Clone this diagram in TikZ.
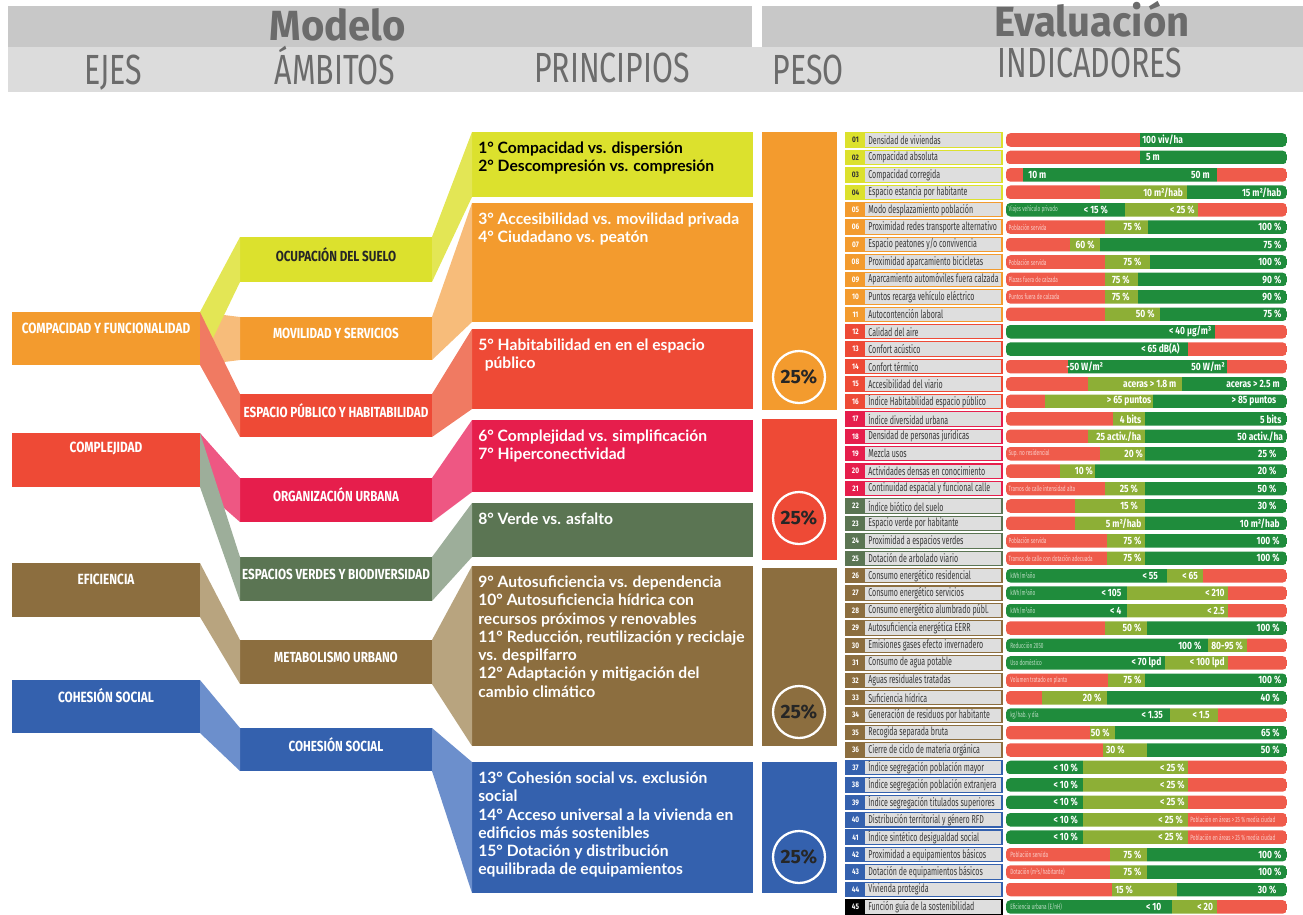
\documentclass[tikz,border=0pt]{standalone}
\usepackage{fontspec}
\setmainfont{Fira Sans}
\newfontfamily\topfont{Fira Sans}[FakeStretch=0.95]
\newfontfamily\hdfont{Fira Sans}[FakeStretch=0.72]
\newfontfamily\condfont{Fira Sans}[FakeStretch=0.8]
\newfontfamily\narrowfont{Fira Sans}[FakeStretch=0.62]
\newfontfamily\prinfont{Lato}

\definecolor{hdA}{HTML}{C8C8C8}
\definecolor{hdB}{HTML}{DCDCDC}
\definecolor{hdText}{HTML}{6B6B6B}
\definecolor{cAma}{HTML}{DCE12D}
\definecolor{cOra}{HTML}{F39B2E}
\definecolor{cRoj}{HTML}{EE4A36}
\definecolor{cRos}{HTML}{E61E4C}
\definecolor{cVer}{HTML}{5B7553}
\definecolor{cMar}{HTML}{8C6E3F}
\definecolor{cAzu}{HTML}{3461AE}
\definecolor{rAma}{HTML}{E3E655}
\definecolor{rOra}{HTML}{F7BC7A}
\definecolor{rRoj}{HTML}{F07A62}
\definecolor{rRos}{HTML}{EE5783}
\definecolor{rVer}{HTML}{9DAE9A}
\definecolor{rMar}{HTML}{B8A47F}
\definecolor{rAzu}{HTML}{6C8FCC}
\definecolor{lblGray}{HTML}{DEDEDE}
\definecolor{barR}{HTML}{EF5B4B}
\definecolor{barL}{HTML}{8DAF36}
\definecolor{barG}{HTML}{1F8C3C}

\newcommand\zonebox[6][]{\node[box,anchor=north west,minimum width={(#5-#3)*0.02cm},minimum height={(#6-#4)*0.02cm},#1] (#2) at (#3,#4) {};}
\newcommand\ribbon[3]{\fill[#1] (#2.north east) -- (#3.north west) -- (#3.south west) -- (#2.south east) -- cycle;}
\newcommand\indrow[7]{%
  \pgfmathsetmacro\yy{140+(#1-1)*17.43}
  \draw[#2, fill=lblGray, line width=0.6pt] (846,\yy-7.2) rectangle (1002,\yy+7.2);
  \fill[#2] (846,\yy-7.2) rectangle (865,\yy+7.2);
  \node[numtxt, text=#3] (num#1) at (855.5,\yy) {\ifnum#1<10 0\fi#1};
  \node[labtxt] (lab#1) at (868,\yy) {#4};
  \begin{scope}
    \clip[rounded corners=2.5pt] (1006,\yy-6.8) rectangle (1287,\yy+6.8);
    \foreach \c/\xe [remember=\xe as \xs (initially 497)] in {#5}
      \fill[\c] ({840+\xs/3},\yy-7) rectangle ({840+\xe/3},\yy+7);
  \end{scope}
  \foreach \xv/\tv [count=\k] in {#6}
    \node[valtxt] (val#1-\k) at ({840+\xv/3},\yy) {\tv};
  \if\relax\detokenize{#7}\relax\else
    \foreach \xn/\tn [count=\k] in {#7}
      \node[notetxt] (note#1-\k) at ({840+\xn/3},\yy) {\tn};
  \fi
}

\begin{document}
\begin{tikzpicture}[x=0.02cm, y=-0.02cm,
  box/.style = {rectangle, inner sep=0pt, outer sep=0pt},
  hdtop/.style = {anchor=base, font=\topfont\bfseries\fontsize{24}{24}\selectfont, text=hdText},
  hdsub/.style = {anchor=base, font=\hdfont\fontsize{24}{24}\selectfont, text=hdText},
  ejelbl/.style = {anchor=center, yshift=-0.32cm, inner sep=0pt, text=white,
    font=\condfont\bfseries\fontsize{8.4}{9}\selectfont},
  amblbl/.style = {anchor=center, yshift=0.1cm, inner sep=0pt, text=white,
    font=\condfont\bfseries\fontsize{8.3}{9}\selectfont},
  prinlbl/.style = {anchor=north west, xshift=0.12cm, yshift=-0.19cm, inner sep=0pt,
    align=left, text=white, font=\prinfont\bfseries\fontsize{8.9}{10.4}\selectfont},
  pct/.style = {circle, draw=white, line width=1.3pt, minimum size=1.04cm, inner sep=0pt,
    text=black!85, font=\bfseries\fontsize{11}{11}\selectfont},
  numtxt/.style = {inner sep=0pt, font=\condfont\bfseries\fontsize{4.6}{5}\selectfont},
  labtxt/.style = {anchor=west, inner sep=0pt, text=black!78,
    font=\narrowfont\fontsize{6.5}{7}\selectfont},
  valtxt/.style = {anchor=east, inner sep=0pt, text=white,
    font=\condfont\bfseries\fontsize{6}{7}\selectfont},
  notetxt/.style = {anchor=west, inner sep=0pt, text=white, text opacity=0.7,
    font=\narrowfont\fontsize{4.3}{5}\selectfont}]
\useasboundingbox (0,0) rectangle (1303,914);

\fill[hdA] (8,6) rectangle (752,47);
\fill[hdA] (762,6) rectangle (1303,47);
\fill[hdB] (8,47) rectangle (1303,92);
\node[hdtop] (tModelo) at (338,40) {Modelo};
\node[hdtop] (tEval) at (1092,36) {Evaluación};
\node[hdsub] (tEjes) at (113,84) {EJES};
\node[hdsub] (tAmbi) at (335,84) {ÁMBITOS};
\node[hdsub] (tPrin) at (612,82) {PRINCIPIOS};
\node[hdsub] (tPeso) at (808,84) {PESO};
\node[hdsub] (tIndi) at (1090,77) {INDICADORES};

\zonebox[fill=cOra, label={[ejelbl]north:COMPACIDAD Y FUNCIONALIDAD}]{eComp}{12}{312}{200}{365}
\zonebox[fill=cRoj, label={[ejelbl]north:COMPLEJIDAD}]{eCplj}{12}{433}{200}{487}
\zonebox[fill=cMar, label={[ejelbl]north:EFICIENCIA}]{eEfic}{12}{563}{200}{617}
\zonebox[fill=cAzu, label={[ejelbl]north:COHESIÓN SOCIAL}]{eCohe}{12}{680}{200}{733}

\zonebox[fill=cAma, label={[amblbl, text=black!85]center:OCUPACIÓN DEL SUELO}]{aOcup}{240}{237}{432}{282}
\zonebox[fill=cOra, label={[amblbl]center:MOVILIDAD Y SERVICIOS}]{aMovi}{240}{317}{432}{360}
\zonebox[fill=cRoj, label={[amblbl]center:ESPACIO PÚBLICO Y HABITABILIDAD}]{aEspa}{240}{394}{432}{437}
\zonebox[fill=cRos, label={[amblbl]center:ORGANIZACIÓN URBANA}]{aOrga}{240}{478}{432}{522}
\zonebox[fill=cVer, label={[amblbl]center:ESPACIOS VERDES Y BIODIVERSIDAD}]{aVerd}{240}{557}{432}{601}
\zonebox[fill=cMar, label={[amblbl]center:METABOLISMO URBANO}]{aMeta}{240}{640}{432}{684}
\zonebox[fill=cAzu, label={[amblbl]center:COHESIÓN SOCIAL}]{aCohe}{240}{728}{432}{771}

\zonebox[fill=cAma, label={[prinlbl, text=black]north west:1° Compacidad vs. dispersión\\2° Descompresión vs. compresión}]{pPrin1}{472}{132}{753}{197}
\zonebox[fill=cOra, label={[prinlbl]north west:3° Accesibilidad vs. movilidad privada\\4° Ciudadano vs. peatón}]{pPrin2}{472}{203}{753}{322}
\zonebox[fill=cRoj, label={[prinlbl]north west:5° Habitabilidad en en el espacio\\\ \,público}]{pPrin3}{472}{329}{753}{409}
\zonebox[fill=cRos, label={[prinlbl]north west:6° Complejidad vs. simplificación\\7° Hiperconectividad}]{pPrin4}{472}{420}{753}{492}
\zonebox[fill=cVer, label={[prinlbl]north west:8° Verde vs. asfalto}]{pPrin5}{472}{503}{753}{557}
\zonebox[fill=cMar, label={[prinlbl]north west:9° Autosuficiencia vs. dependencia\\10° Autosuficiencia hídrica con\\recursos próximos y renovables\\11° Reducción, reutilización y reciclaje\\vs. despilfarro\\12° Adaptación y mitigación del\\cambio climático}]{pPrin6}{472}{566}{753}{746}
\zonebox[fill=cAzu, label={[prinlbl]north west:13° Cohesión social vs. exclusión\\social\\14° Acceso universal a la vivienda en\\edificios más sostenibles\\15° Dotación y distribución\\equilibrada de equipamientos}]{pPrin7}{472}{762}{753}{893}

\zonebox[fill=cOra]{wComp}{762}{132}{837}{410}
\zonebox[fill=cRoj]{wCplj}{762}{419}{837}{560}
\zonebox[fill=cMar]{wEfic}{762}{568}{837}{746}
\zonebox[fill=cAzu]{wCohe}{762}{762}{837}{893}
\node[pct, fill=cOra] (pct1) at (799,377) {25\%};
\node[pct, fill=cRoj] (pct2) at (799,518) {25\%};
\node[pct, fill=cMar] (pct3) at (799,712) {25\%};
\node[pct, fill=cAzu] (pct4) at (799,857) {25\%};

\ribbon{rOra}{eComp}{aMovi}
\ribbon{rAma}{eComp}{aOcup}
\ribbon{rRoj}{eComp}{aEspa}
\ribbon{rRos}{eCplj}{aOrga}
\ribbon{rVer}{eCplj}{aVerd}
\ribbon{rMar}{eEfic}{aMeta}
\ribbon{rAzu}{eCohe}{aCohe}
\ribbon{rAma}{aOcup}{pPrin1}
\ribbon{rOra}{aMovi}{pPrin2}
\ribbon{rRoj}{aEspa}{pPrin3}
\ribbon{rRos}{aOrga}{pPrin4}
\ribbon{rVer}{aVerd}{pPrin5}
\ribbon{rMar}{aMeta}{pPrin6}
\ribbon{rAzu}{aCohe}{pPrin7}

\indrow{1}{cAma}{black!80}{Densidad de viviendas}{barR/900,barG/1340}{1030/{100 viv/ha}}{}
\indrow{2}{cAma}{black!80}{Compacidad absoluta}{barR/900,barG/1340}{960/{5 m}}{}
\indrow{3}{cAma}{black!80}{Compacidad corregida}{barR/550,barG/1130,barR/1340}{620/{10 m},1110/{50 m}}{}
\indrow{4}{cAma}{black!80}{Espacio estancia por habitante}{barR/780,barL/1040,barG/1340}{1030/{10 m²/hab},1325/{15 m²/hab}}{}
\indrow{5}{cOra}{white}{Modo desplazamiento población}{barG/855,barL/1075,barR/1340}{805/{< 15 \%},1065/{< 25 \%}}{505/{Viajes vehículo privado}}
\indrow{6}{cOra}{white}{Proximidad redes transporte alternativo}{barR/795,barL/925,barG/1340}{905/{75 \%},1325/{100 \%}}{505/{Población servida}}
\indrow{7}{cOra}{white}{Espacio peatones y/o convivencia}{barR/690,barL/780,barG/1340}{765/{60 \%},1325/{75 \%}}{}
\indrow{8}{cOra}{white}{Proximidad aparcamiento bicicletas}{barR/795,barL/930,barG/1340}{905/{75 \%},1325/{100 \%}}{505/{Población servida}}
\indrow{9}{cOra}{white}{Aparcamiento automóviles fuera calzada}{barR/795,barL/895,barG/1340}{870/{75 \%},1325/{90 \%}}{505/{Plazas fuera de calzada}}
\indrow{10}{cOra}{white}{Puntos recarga vehículo eléctrico}{barR/795,barL/895,barG/1340}{870/{75 \%},1325/{90 \%}}{505/{Puntos fuera de calzada}}
\indrow{11}{cOra}{white}{Autocontención laboral}{barR/795,barL/960,barG/1340}{945/{50 \%},1325/{75 \%}}{}
\indrow{12}{cRoj}{white}{Calidad del aire}{barG/1125,barR/1340}{1115/{< 40 µg/m³}}{}
\indrow{13}{cRoj}{white}{Confort acústico}{barG/1045,barR/1340}{1020/{< 65 dB(A)}}{}
\indrow{14}{cRoj}{white}{Confort térmico}{barR/685,barG/1160,barR/1340}{790/{-50 W/m²},1155/{50 W/m²}}{}
\indrow{15}{cRoj}{white}{Accesibilidad del viario}{barR/745,barL/1025,barG/1340}{1010/{aceras > 1.8 m},1320/{aceras > 2.5 m}}{}
\indrow{16}{cRoj}{white}{Índice Habitabilidad espacio público}{barR/615,barL/940,barG/1340}{935/{> 65 puntos},1310/{> 85 puntos}}{}
\indrow{17}{cRos}{white}{Índice diversidad urbana}{barR/820,barL/915,barG/1340}{905/{4 bits},1325/{5 bits}}{}
\indrow{18}{cRos}{white}{Densidad de personas jurídicas}{barR/745,barL/915,barG/1340}{905/{25 activ./ha},1330/{50 activ./ha}}{}
\indrow{19}{cRos}{white}{Mezcla usos}{barR/780,barL/915,barG/1340}{910/{20 \%},1310/{25 \%}}{505/{Sup. no residencial}}
\indrow{20}{cRos}{white}{Actividades densas en conocimiento}{barR/660,barL/765,barG/1340}{760/{10 \%},1310/{20 \%}}{}
\indrow{21}{cRos}{white}{Continuidad espacial y funcional calle}{barR/795,barL/915,barG/1340}{895/{25 \%},1310/{50 \%}}{505/{Tramos de calle intensidad alta}}
\indrow{22}{cVer}{white}{Índice biótico del suelo}{barR/705,barL/915,barG/1340}{895/{15 \%},1310/{30 \%}}{}
\indrow{23}{cVer}{white}{Espacio verde por habitante}{barR/705,barL/915,barG/1340}{905/{5 m²/hab},1320/{10 m²/hab}}{}
\indrow{24}{cVer}{white}{Proximidad a espacios verdes}{barR/800,barL/915,barG/1340}{905/{75 \%},1320/{100 \%}}{505/{Población servida}}
\indrow{25}{cVer}{white}{Dotación de arbolado viario}{barR/800,barL/915,barG/1340}{905/{75 \%},1320/{100 \%}}{505/{Tramos de calle con dotación adecuada}}
\indrow{26}{cMar}{white}{Consumo energético residencial}{barG/980,barL/1090,barR/1340}{955/{< 55},1075/{< 65}}{510/{kWh/m²año}}
\indrow{27}{cMar}{white}{Consumo energético servicios}{barG/860,barL/1165,barR/1340}{845/{< 105},1155/{< 210}}{510/{kWh/m²año}}
\indrow{28}{cMar}{white}{Consumo energético alumbrado públ.}{barG/860,barL/1165,barR/1340}{845/{< 4},1155/{< 2.5}}{510/{kWh/m²año}}
\indrow{29}{cMar}{white}{Autosuficiencia energética EERR}{barR/795,barL/920,barG/1340}{905/{50 \%},1320/{100 \%}}{}
\indrow{30}{cMar}{white}{Emisiones gases efecto invernadero}{barG/1105,barL/1220,barR/1340}{1085/{100 \%},1210/{80-95 \%}}{510/{Reducción 2050}}
\indrow{31}{cMar}{white}{Consumo de agua potable}{barG/975,barL/1165,barR/1340}{965/{< 70 lpd},1155/{< 100 lpd}}{510/{Uso doméstico}}
\indrow{32}{cMar}{white}{Aguas residuales tratadas}{barR/805,barL/915,barG/1340}{905/{75 \%},1325/{100 \%}}{510/{Volumen tratado en planta}}
\indrow{33}{cMar}{white}{Suficiencia hídrica}{barR/605,barL/800,barG/1340}{785/{20 \%},1320/{40 \%}}{}
\indrow{34}{cMar}{white}{Generación de residuos por habitante}{barG/990,barL/1135,barR/1340}{970/{< 1.35},1110/{< 1.5}}{510/{kg/hab. y día}}
\indrow{35}{cMar}{white}{Recogida separada bruta}{barR/750,barL/825,barG/1340}{810/{50 \%},1320/{65 \%}}{}
\indrow{36}{cMar}{white}{Cierre de ciclo de materia orgánica}{barR/790,barL/920,barG/1340}{855/{30 \%},1320/{50 \%}}{}
\indrow{37}{cAzu}{white}{Índice segregación población mayor}{barG/730,barL/1045,barR/1340}{715/{< 10 \%},1035/{< 25 \%}}{}
\indrow{38}{cAzu}{white}{Índice segregación población extranjera}{barG/730,barL/1045,barR/1340}{715/{< 10 \%},1035/{< 25 \%}}{}
\indrow{39}{cAzu}{white}{Índice segregación titulados superiores}{barG/730,barL/1045,barR/1340}{715/{< 10 \%},1035/{< 25 \%}}{}
\indrow{40}{cAzu}{white}{Distribución territorial y género RFD}{barG/730,barL/1045,barR/1340}{715/{< 10 \%},1030/{< 25 \%}}{1050/{Población en áreas > 25 \% media ciudad}}
\indrow{41}{cAzu}{white}{Índice sintético desigualdad social}{barG/730,barL/1045,barR/1340}{715/{< 10 \%},1030/{< 25 \%}}{1050/{Población en áreas > 25 \% media ciudad}}
\indrow{42}{cAzu}{white}{Proximidad a equipamientos básicos}{barR/810,barL/920,barG/1340}{905/{75 \%},1325/{100 \%}}{510/{Población servida}}
\indrow{43}{cAzu}{white}{Dotación de equipamientos básicos}{barR/810,barL/920,barG/1340}{905/{75 \%},1325/{100 \%}}{510/{Dotación (m²s/habitante)}}
\indrow{44}{cAzu}{white}{Vivienda protegida}{barR/815,barL/1010,barG/1340}{880/{15 \%},1310/{30 \%}}{}
\indrow{45}{black}{white}{Función guía de la sostenibilidad}{barG/995,barL/1130,barR/1340}{965/{< 10},1120/{< 20}}{510/{Eficiencia urbana (E/nH)}}
\end{tikzpicture}
\end{document}
